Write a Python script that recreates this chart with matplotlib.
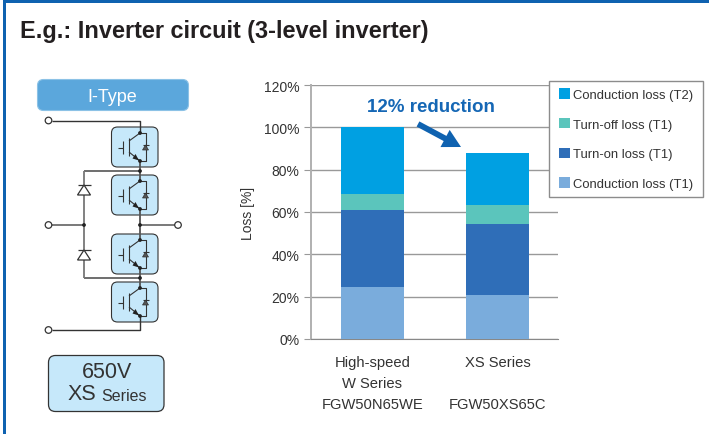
import matplotlib
matplotlib.use('Agg')
import matplotlib.pyplot as plt
from matplotlib.patches import FancyBboxPatch, Rectangle, Polygon, Circle

plt.rcParams['font.family'] = ['Liberation Sans', 'DejaVu Sans']

# chart data
categories = ['High-speed\nW Series\nFGW50N65WE', 'XS Series\n\nFGW50XS65C']
series_names = ['Conduction loss (T1)', 'Turn-on loss (T1)', 'Turn-off loss (T1)', 'Conduction loss (T2)']
cond_t1 = [24.5, 20.5]
turn_on = [36.3, 33.8]
turn_off = [7.6, 9.0]
cond_t2 = [31.6, 24.5]
colors = ['#7AACDC', '#2F6EB8', '#5BC5BC', '#00A0E2']
yticks = [0, 20, 40, 60, 80, 100, 120]

W, H = 709, 435
fig = plt.figure(figsize=(W / 100, H / 100), dpi=100)

# pixel canvas for the frame and the circuit
bg = fig.add_axes([0, 0, 1, 1])
bg.set_xlim(0, W)
bg.set_ylim(H, 0)
bg.axis('off')

blue = '#0F62B0'
bg.add_patch(Rectangle((3, 1), W, 2.5, color=blue, lw=0))
bg.add_patch(Rectangle((3, 1), 3, H, color=blue, lw=0))
bg.text(20, 31.5, 'E.g.: Inverter circuit (3-level inverter)', fontsize=16.9, fontweight='bold',
        color='#231F20', va='center')

bg.add_patch(FancyBboxPatch((37.5, 80.5), 151, 31, boxstyle='round,pad=0,rounding_size=6', fc='#5BA7DC', ec='#8CC2E6', lw=0.8))
bg.text(112, 97, 'I-Type', color='white', fontsize=13, ha='center', va='center')

bg.add_patch(FancyBboxPatch((48.5, 356.5), 115.5, 56, boxstyle='round,pad=0,rounding_size=7', fc='#C6E8FA', ec='#333333', lw=0.9))
bg.text(107, 373, '650V', fontsize=15.5, ha='center', va='center', color='#333333')
bg.text(68, 395, 'XS', fontsize=15.5, ha='left', va='center', color='#333333')
bg.text(101, 397, 'Series', fontsize=11.5, ha='left', va='center', color='#333333')

LINE = '#333333'
def wire(xs, ys, lw=1.0, color=LINE):
    bg.plot(xs, ys, color=color, lw=lw, solid_capstyle='butt', zorder=3)

def dot(x, y, r=1.9):
    bg.add_patch(Circle((x, y), r, fc='#222222', ec='none', zorder=5))

def terminal(x, y):
    bg.add_patch(Circle((x, y), 3.3, fc='white', ec='#333333', lw=0.9, zorder=5))

def diode(x, top, s=6.5, h=10, lw=0.9):
    bg.add_patch(Polygon([(x - s, top + h), (x + s, top + h), (x, top)], closed=True, fc='white', ec=LINE, lw=lw, zorder=4))
    wire([x - s, x + s], [top, top], lw=lw)

def igbt(top):
    bg.add_patch(FancyBboxPatch((111.5, top), 46.5, 40, boxstyle='round,pad=0,rounding_size=6', fc='#C6E8FA', ec='#333333', lw=0.8, zorder=2))
    cx = 140
    dot(cx, top + 6)
    dot(cx, top + 34)
    wire([cx, 146, 146, cx], [top + 6, top + 6, top + 34, top + 34], lw=0.8)
    bg.add_patch(Polygon([(142.5, top + 23), (148.5, top + 23), (145.5, top + 18)], closed=True, fc='#555555', ec=LINE, lw=0.5, zorder=4))
    wire([142.5, 148.5], [top + 18, top + 18], lw=0.8)
    wire([118, 122.7], [top + 21, top + 21], lw=0.8)
    wire([122.7, 122.7], [top + 14, top + 27], lw=0.8)
    wire([129, 129], [top + 11, top + 29], lw=0.8)
    wire([129, cx], [top + 14, top + 6], lw=0.8)
    wire([129, cx], [top + 25, top + 34], lw=0.8)
    bg.add_patch(Polygon([(139, top + 33.5), (132.5, top + 31.5), (135.5, top + 27)], closed=True, fc='#222222', ec='none', zorder=4))

for top in [128, 176, 235, 283]:
    igbt(top)

wire([52, 140, 140], [121.5, 121.5, 134])
wire([52, 140, 140], [331, 331, 317])
wire([140, 140], [162, 182], color='#555555', lw=1.3)
wire([140, 140], [210, 241], color='#555555', lw=1.3)
wire([140, 140], [269, 289], color='#555555', lw=1.3)
wire([84, 140], [172, 172], color='#555555', lw=1.2)
wire([84, 140], [279, 279], color='#555555', lw=1.2)
wire([84, 84], [172, 279], color='#777777', lw=1.3)
wire([52, 84], [226, 226], color='#555555', lw=1.1)
wire([140, 175], [226, 226], color='#555555', lw=1.1)
diode(84, 186)
diode(84, 251)
terminal(48.5, 121.5)
terminal(48.5, 226)
terminal(178, 226)
terminal(48.5, 331)
dot(84, 226)
dot(140, 226)
dot(140, 172)
dot(140, 279)

# bar chart
x0, x1, y_top, y_bot = 310.5, 558, 86.2, 339.8
ax = fig.add_axes([x0 / W, 1 - y_bot / H, (x1 - x0) / W, (y_bot - y_top) / H])
pos = [0, 1]
bottom = [0, 0]
stack = [cond_t1, turn_on, turn_off, cond_t2]
for vals, name, c in zip(stack, series_names, colors):
    ax.bar(pos, vals, width=0.504, bottom=bottom, color=c, label=name, zorder=3)
    bottom = [b + v for b, v in zip(bottom, vals)]
ax.set_xlim(-0.496, 1.484)
ax.set_ylim(0, 120)
ax.set_yticks(yticks)
ax.set_yticklabels([f'{t}%' for t in yticks], fontsize=10, color='#333333')
ax.grid(axis='y', color='#999999', lw=1, zorder=0)
ax.set_axisbelow(True)
ax.tick_params(axis='y', length=5, color='#999999', pad=3)
ax.tick_params(axis='x', length=0, pad=12)
ax.set_xticks(pos)
ax.set_xticklabels(categories, fontsize=10.65, color='#333333', linespacing=1.62)
for s in ['top', 'right']:
    ax.spines[s].set_visible(False)
ax.spines['left'].set_color('#B0B0B0')
ax.spines['left'].set_linewidth(1.4)
ax.spines['bottom'].set_color('#888888')
ax.set_ylabel('Loss [%]', fontsize=10, color='#333333', labelpad=6)
ax.patch.set_alpha(0)

# legend box drawn apart so its width can follow the reference
fig.add_artist(Rectangle((548.5 / W, 1 - 198 / H), 154.5 / W, 116.5 / H, transform=fig.transFigure,
                         fc='white', ec='#8C8C8C', lw=1, zorder=4))
handles, labels = ax.get_legend_handles_labels()
leg = fig.legend(handles[::-1], labels[::-1], loc='upper left', bbox_to_anchor=(551 / W, 1 - 81.5 / H), fontsize=9.4,
                 frameon=False, labelspacing=1.3,
                 handlelength=0.85, handleheight=0.85, handletextpad=0.25, borderpad=0.6, labelcolor='#333333',
                 borderaxespad=0)

top_layer = fig.add_axes([0, 0, 1, 1])
top_layer.set_xlim(0, W)
top_layer.set_ylim(H, 0)
top_layer.axis('off')
top_layer.text(430.5, 108, '12% reduction', color='#1567B5', fontsize=13.5, fontweight='bold', ha='center', va='center')
top_layer.annotate('', xy=(461, 148), xytext=(418, 125),
                   arrowprops=dict(arrowstyle='simple,head_width=1.4,head_length=1.3,tail_width=0.42', mutation_scale=10,
                                   color='#0F62B0', lw=0, shrinkA=0, shrinkB=0))

fig.savefig('out.png', dpi=100)
